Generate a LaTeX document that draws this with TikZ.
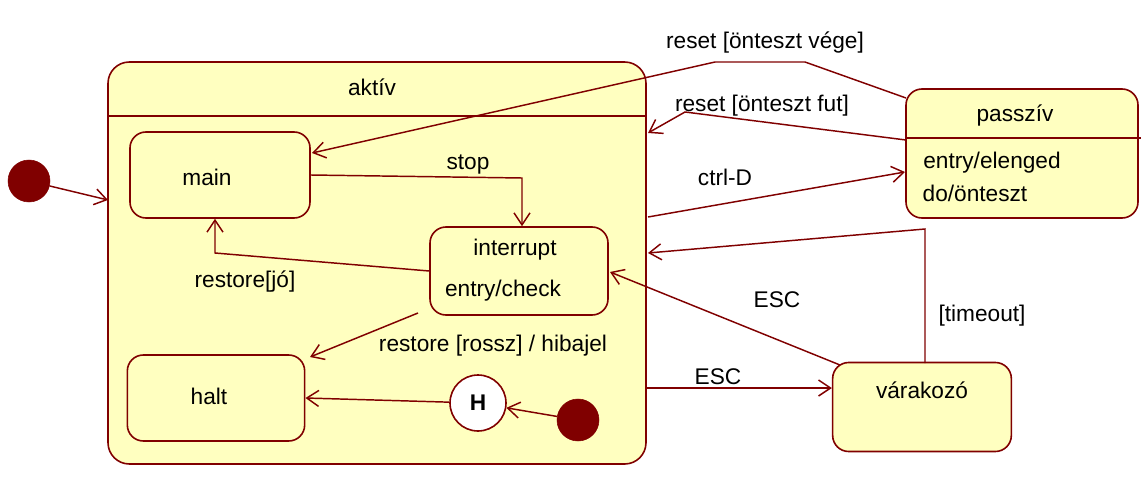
\documentclass[tikz,border=0pt]{standalone}
\usepackage{fontspec}
\setmainfont{Liberation Sans}
\usetikzlibrary{arrows.meta}
\definecolor{dr}{HTML}{800000}
\definecolor{ly}{HTML}{FFFFC0}
\begin{document}
\begin{tikzpicture}[x=0.75pt,y=-0.75pt,
  st/.style={draw=dr,fill=ly,line width=1.2pt,rounded corners=12pt},
  ar/.style={draw=dr,line width=1.1pt,-{Straight Barb[length=9pt,width=12pt]}},
  tx/.style={font=\fontsize{17}{20}\selectfont,inner sep=0pt,text=black},
  ini/.style={circle,fill=dr,draw=dr,minimum size=31.5pt,inner sep=0pt}]
\useasboundingbox (0,0) rectangle (1143,489);
% aktív
\draw[st,rounded corners=16pt] (108,62) rectangle (646,464);
\node[tx] (ta) at (372,87) {aktív};
\draw[dr,line width=2.2pt] (108,116) -- (646,116);
\node[st,minimum width=135pt,minimum height=64.5pt] (main) at (220,175) {};
\node[tx] at (207,177) {main};
\node[st,minimum width=133.5pt,minimum height=66pt] (int) at (519,271) {};
\node[tx] at (515,250) {interrupt};
\node[tx] at (503,291) {entry/check};
\node[st,minimum width=133pt,minimum height=64.5pt] (halt) at (216,398) {};
\node[tx] at (209,396) {halt};
\node[circle,draw=dr,fill=white,line width=1.2pt,minimum size=42pt,inner sep=0pt,font=\fontsize{17}{20}\selectfont\bfseries] (H) at (478,403) {H};
\node[ini] (i2) at (578,420) {};
\node[ini] (i1) at (29,181) {};
% passzív
\draw[st] (906,89) rectangle (1138,218);
\node[tx] at (1015,116) {passzív};
\draw[dr,line width=2.2pt] (906,138) -- (1141,138);
\node[tx] at (992,163) {entry/elenged};
\node[tx] at (975,193) {do/önteszt};
\coordinate (pas) at (906,140);
\coordinate (pas2) at (906,98);
\node[st,minimum width=134pt,minimum height=66.75pt] (var) at (922,407) {};
\node[tx] at (922,390) {várakozó};
% arrows
\coordinate (a1) at (108,200);
\draw[ar] (i1) -- (a1);
\draw[ar] (main.east) -- (522,178) -- (int.north -| 522,0);
\node[tx] at (468,165) {stop};
\draw[ar] (int.west) -- (215,253) -- (main.south -| 215,0);
\node[tx] at (245,282) {restore[jó]};
\draw[ar] (418,313) -- (310,357);
\node[tx] at (493,346) {restore [rossz] / hibajel};
\draw[ar] (H) -- (halt.east |- 0,398);
\draw[ar] (i2) -- (H);
\coordinate (e1) at (646,388);
\draw[ar] (e1) -- (var.west |- e1);
\node[tx] at (718,377) {ESC};
\draw[ar] (840,365) -- (610,272);
\node[tx] at (777,300) {ESC};
\draw[ar] (925,363) -- (925,229) -- (648,253);
\node[tx] at (982,316) {[timeout]};
\draw[ar] (648,217) -- (905,172);
\node[tx] at (725,177) {ctrl-D};
\draw[ar] (pas) -- (685,112) -- (648,133);
\node[tx] at (762,106) {reset [önteszt fut]};
\draw[ar] (pas2) -- (805,62) -- (715,62) -- (312,153);
\node[tx] at (765,43) {reset [önteszt vége]};
\end{tikzpicture}
\end{document}
